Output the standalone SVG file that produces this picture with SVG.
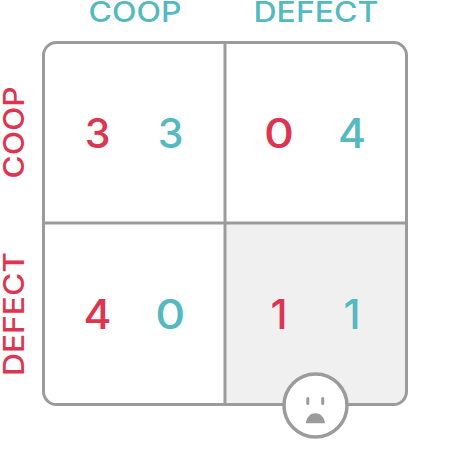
<svg xmlns="http://www.w3.org/2000/svg" width="450" height="450" viewBox="0 0 450 450">
<style>
text{font-family:"Inter","Lato","Liberation Sans",sans-serif;font-weight:500;text-anchor:middle}
.r{fill:#dd344f}.t{fill:#54b9c0}
.h{font-size:28px}.n{font-size:41px}
.l{fill:none;stroke:#9b9b9b;stroke-width:3}
</style>
<g id="board">
<path d="M225 223H406V392a12 12 0 0 1-12 12H225Z" fill="#f0f0f0"/>
<rect class="l" x="43.500" y="42.500" width="363" height="362" rx="13"/>
</g>
<g id="connectors">
<path class="l" d="M225 42V405M43 223H407"/>
</g>
<g id="col-coop"><text class="h t" x="135" y="22" textLength="93" lengthAdjust="spacingAndGlyphs">COOP</text></g>
<g id="col-defect"><text class="h t" x="316" y="22" textLength="125" lengthAdjust="spacingAndGlyphs">DEFECT</text></g>
<g id="row-coop"><text class="h r" transform="translate(24 132.500) rotate(-90)" textLength="92" lengthAdjust="spacingAndGlyphs">COOP</text></g>
<g id="row-defect"><text class="h r" transform="translate(24 314) rotate(-90)" textLength="124" lengthAdjust="spacingAndGlyphs">DEFECT</text></g>
<g id="cell-cc"><text class="n r" x="97.500" y="148">3</text><text class="n t" x="170.500" y="148">3</text></g>
<g id="cell-cd"><text class="n r" x="279" y="148" textLength="30" lengthAdjust="spacingAndGlyphs">0</text><text class="n t" x="352" y="148" textLength="28" lengthAdjust="spacingAndGlyphs">4</text></g>
<g id="cell-dc"><text class="n r" x="97.500" y="329" textLength="28" lengthAdjust="spacingAndGlyphs">4</text><text class="n t" x="170.300" y="329" textLength="30" lengthAdjust="spacingAndGlyphs">0</text></g>
<g id="cell-dd"><text class="n r" x="279" y="329">1</text><text class="n t" x="352" y="329">1</text></g>
<g id="sad-face">
<circle cx="315.500" cy="405.500" r="31.500" fill="#fff" stroke="#9b9b9b" stroke-width="3.500"/>
<path d="M307.800 398.500v5M322.700 398.500v5" stroke="#9b9b9b" stroke-width="3" stroke-linecap="round" fill="none"/>
<path d="M305.800 423.300c1-7 5-10 9.600-10s8.600 3 9.600 10Z" fill="#9b9b9b"/>
</g>
</svg>
